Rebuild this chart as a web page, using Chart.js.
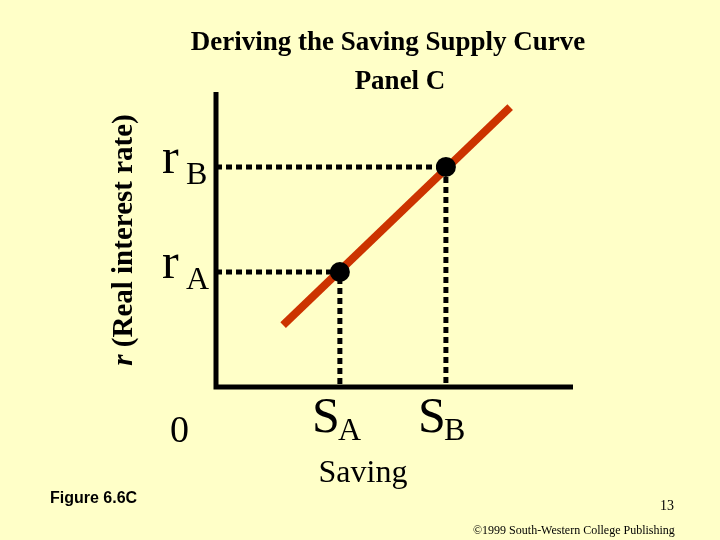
<!DOCTYPE html><html><head><style>html,body{margin:0;background:#FFFFC8}</style>
<script src="https://cdn.jsdelivr.net/npm/chart.js@4/dist/chart.umd.min.js"></script></head><body>
<div style="width:720px;height:540px"><canvas id="c"></canvas></div>
<script>
const supplyX=[18.8,82.4], supplyY=[21,94.9];
const pointLabels=['A','B'];
const pointX=[34.7,64.4], pointY=[39,74.6];
const titleLines=['Deriving the Saving Supply Curve','Panel C'];
const F='"Liberation Serif","Times New Roman",serif';
const deco={id:'deco',afterDraw(ch){
 const c=ch.ctx,a=ch.chartArea,xs=ch.scales.x,ys=ch.scales.y;
 c.save();
 c.strokeStyle='#000';c.lineWidth=5;c.setLineDash([6,4]);
 pointX.forEach((v,i)=>{const px=xs.getPixelForValue(v),py=ys.getPixelForValue(pointY[i]);
  c.beginPath();c.moveTo(a.left,py);c.lineTo(px,py);c.lineTo(px,a.bottom);c.stroke();});
 c.setLineDash([]);c.lineWidth=5;
 c.beginPath();c.moveTo(a.left,a.top);c.lineTo(a.left,a.bottom);c.lineTo(a.right,a.bottom);c.stroke();
 c.fillStyle='#000';
 pointX.forEach((v,i)=>{c.beginPath();c.arc(xs.getPixelForValue(v),ys.getPixelForValue(pointY[i]),10,0,7);c.fill();});
 c.textAlign='center';c.textBaseline='alphabetic';
 c.font='bold 27px '+F;c.fillText(titleLines[0],388,50);c.fillText(titleLines[1],400,89);
 c.textAlign='left';
 pointX.forEach((v,i)=>{const py=ys.getPixelForValue(pointY[i]);
  c.font='50px '+F;c.fillText('r',162,py+6);c.font='32px '+F;c.fillText(pointLabels[i],186,py+17);
  const px=xs.getPixelForValue(v);
  c.font='50px '+F;c.fillText('S',px-28,a.bottom+45);c.font='32px '+F;c.fillText(pointLabels[i],px-2,a.bottom+53);});
 c.font='38px '+F;c.fillText('0',170,a.bottom+55);
 c.textAlign='center';c.font='32px '+F;c.fillText('Saving',363,482);
 c.save();c.translate(132,240);c.rotate(-Math.PI/2);
 c.font='bold italic 29px '+F;const w1=c.measureText('r ').width;c.font='bold 29px '+F;const w2=c.measureText('(Real interest rate)').width;
 c.textAlign='left';c.font='bold italic 29px '+F;c.fillText('r ',-(w1+w2)/2,0);c.font='bold 29px '+F;c.fillText('(Real interest rate)',-(w1+w2)/2+w1,0);c.restore();
 c.font='bold 16px "Liberation Sans",Arial,sans-serif';c.textAlign='left';c.fillText('Figure 6.6C',50,503);
 c.font='14px '+F;c.fillText('13',660,510);c.font='12px '+F;c.fillText('©1999 South-Western College Publishing',473,534);
 c.restore();}};
new Chart(document.getElementById('c'),{type:'scatter',
 data:{datasets:[{data:supplyX.map((x,i)=>({x,y:supplyY[i]})),showLine:true,borderColor:'#CC3300',borderWidth:8,pointRadius:0,borderCapStyle:'butt'}]},
 options:{responsive:true,maintainAspectRatio:false,animation:false,
  layout:{padding:{left:216,right:147,top:92,bottom:153}},
  plugins:{legend:{display:false},tooltip:{enabled:false}},
  scales:{x:{display:false,min:0,max:100},y:{display:false,min:0,max:100}}},
 plugins:[deco]});
</script></body></html>
